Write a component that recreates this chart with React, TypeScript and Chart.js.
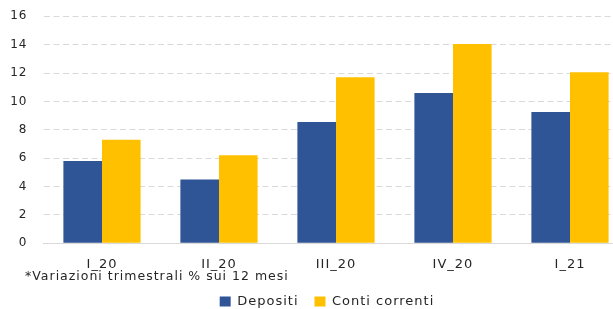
import { useEffect, useRef } from "react";
import { Chart, registerables } from "chart.js";

Chart.register(...registerables);

const categories = ["I_20", "II_20", "III_20", "IV_20", "I_21"];
const depositi = [5.8, 4.5, 8.55, 10.6, 9.25];
const contiCorrenti = [7.3, 6.2, 11.7, 14.05, 12.05];
const seriesNames = ["Depositi", "Conti correnti"];
const seriesColors = ["#2F5597", "#FFC000"];
const yMin = 0;
const yMax = 16;
const yStep = 2;
const footnote = "*Variazioni trimestrali % sui 12 mesi";

const FONT = "'DejaVu Sans', sans-serif";
const TEXT = "#262626";
const SPACING = "1px";

const spacingPlugin = {
  id: "letterSpacing",
  beforeLayout(chart: any) {
    chart.ctx.letterSpacing = SPACING;
  },
  beforeDraw(chart: any) {
    chart.ctx.letterSpacing = SPACING;
  },
};

const footnotePlugin = {
  id: "footnote",
  afterDraw(chart: any) {
    const { ctx, chartArea } = chart;
    ctx.save();
    ctx.letterSpacing = SPACING;
    ctx.font = `12.5px ${FONT}`;
    ctx.fillStyle = TEXT;
    ctx.textAlign = "left";
    ctx.textBaseline = "middle";
    ctx.fillText(footnote, chartArea.left - 18.5, chartArea.bottom + 33);
    ctx.restore();
  },
};

export default function App() {
  const ref = useRef<HTMLCanvasElement | null>(null);

  useEffect(() => {
    if (!ref.current) return;
    const chart = new Chart(ref.current, {
      type: "bar",
      data: {
        labels: categories,
        datasets: [
          {
            label: seriesNames[0],
            data: depositi,
            backgroundColor: seriesColors[0],
            borderWidth: 0,
            categoryPercentage: 0.66,
            barPercentage: 1.0,
          },
          {
            label: seriesNames[1],
            data: contiCorrenti,
            backgroundColor: seriesColors[1],
            borderWidth: 0,
            categoryPercentage: 0.66,
            barPercentage: 1.0,
          },
        ],
      },
      options: {
        responsive: false,
        animation: false,
        devicePixelRatio: 1,
        layout: { padding: { top: 16.3, bottom: 0, left: 0, right: 0 } },
        plugins: {
          legend: {
            position: "bottom",
            labels: {
              boxWidth: 11,
              boxHeight: 10,
              padding: 16,
              color: TEXT,
              font: { family: FONT, size: 13 },
            },
          },
          tooltip: { enabled: false },
          title: { display: false },
        },
        scales: {
          x: {
            grid: { display: false, drawTicks: false },
            border: { display: true, color: "#d9d9d9", width: 1 },
            ticks: { padding: 14, color: TEXT, font: { family: FONT, size: 13 } },
            afterFit(s: any) {
              s.height = 35.7;
            },
          },
          y: {
            min: yMin,
            max: yMax,
            ticks: {
              stepSize: yStep,
              padding: 16,
              color: TEXT,
              font: { family: FONT, size: 12 },
            },
            grid: { color: "#d9d9d9", drawTicks: false, lineWidth: 1 },
            border: { display: false, dash: [6, 3.5] },
            afterFit(s: any) {
              s.width = 43.5;
              s.paddingTop = 0;
              s.paddingBottom = 0;
            },
          },
          y2: {
            position: "right",
            display: true,
            grid: { display: false, drawTicks: false },
            ticks: { display: false },
            border: { display: false },
            afterFit(s: any) {
              s.width = 25.5;
            },
          },
        },
      },
      plugins: [spacingPlugin, footnotePlugin],
    });
    return () => chart.destroy();
  }, []);

  return (
    <div
      style={{
        position: "absolute",
        left: 0,
        top: 0,
        width: 613,
        height: 309,
        overflow: "hidden",
        background: "#fff",
      }}
    >
      <canvas ref={ref} width={654} height={318} style={{ width: 654, height: 318, display: "block" }} />
    </div>
  );
}
